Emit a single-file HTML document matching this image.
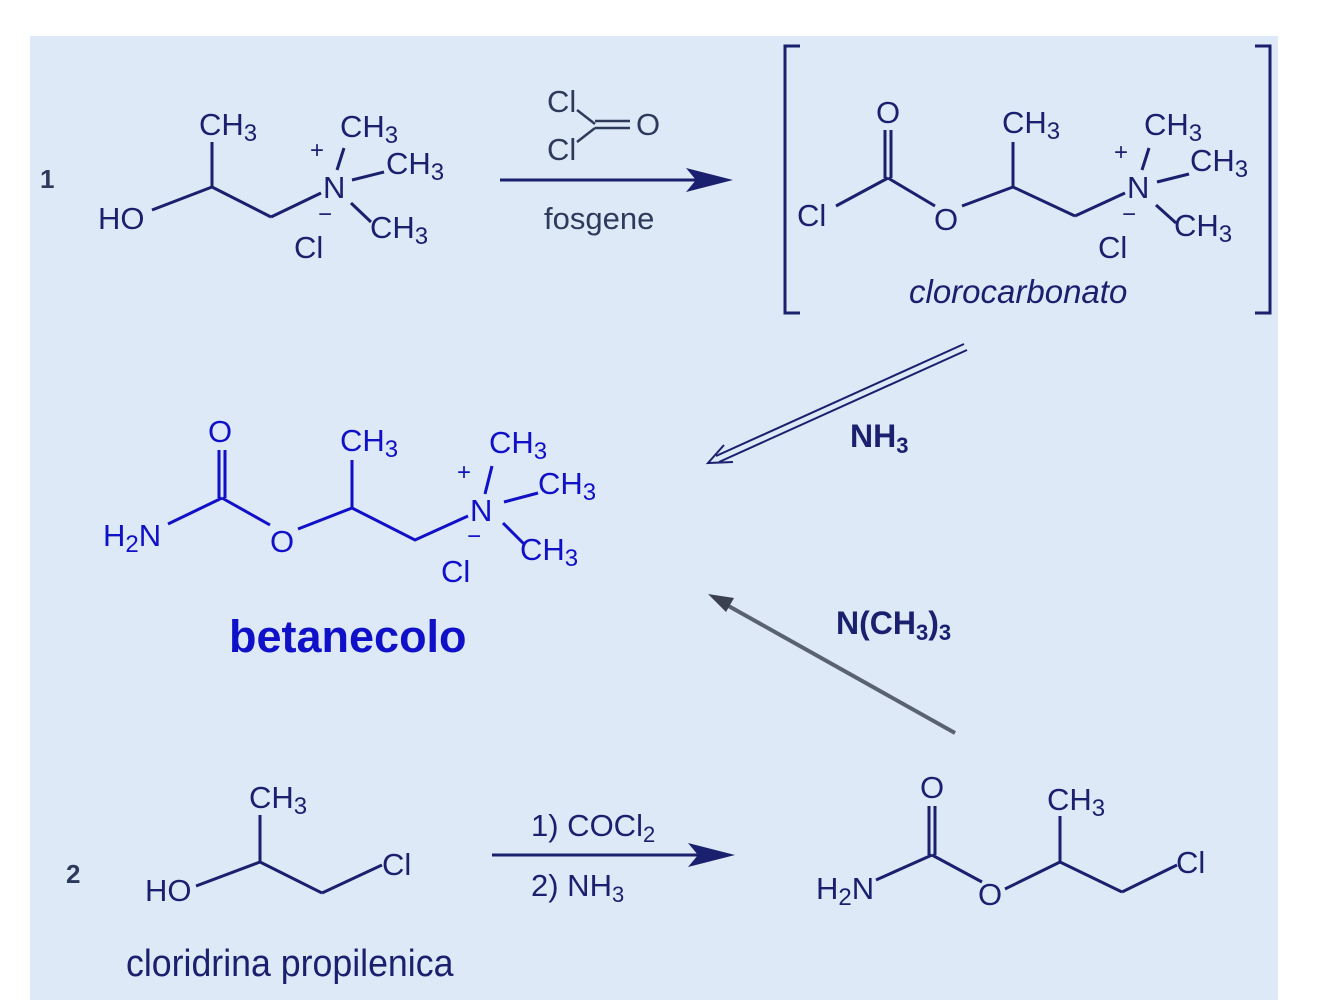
<!DOCTYPE html>
<html><head><meta charset="utf-8"><style>
html,body{margin:0;padding:0;background:#fff;}
svg{display:block;}
text{font-family:"Liberation Sans",sans-serif;}
</style></head><body>
<svg width="1319" height="1000" viewBox="0 0 1319 1000" xmlns="http://www.w3.org/2000/svg">
<rect x="30" y="36" width="1248" height="964" fill="#dde9f6"/>

<text x="40" y="188" font-size="26" font-weight="bold" fill="#2e3a5c">1</text>
<text x="66" y="883" font-size="26" font-weight="bold" fill="#2e3a5c">2</text>

<!-- Structure 1 -->
<g stroke="#1a1f6e" stroke-width="3" fill="none">
<line x1="152" y1="210" x2="212" y2="187"/>
<line x1="212" y1="187" x2="212" y2="142"/>
<line x1="212" y1="187" x2="271" y2="217"/>
<line x1="271" y1="217" x2="321" y2="193"/>
<line x1="337" y1="170" x2="344" y2="148"/>
<line x1="352" y1="180" x2="384" y2="172"/>
<line x1="351" y1="203" x2="371" y2="222"/>
</g>
<g fill="#1a1f6e" font-size="31">
<text x="98" y="229">HO</text>
<text x="199" y="135">CH<tspan font-size="24" dy="6">3</tspan></text>
<text x="340" y="137">CH<tspan font-size="24" dy="6">3</tspan></text>
<text x="386" y="174">CH<tspan font-size="24" dy="6">3</tspan></text>
<text x="370" y="238">CH<tspan font-size="24" dy="6">3</tspan></text>
<text x="323" y="198">N</text>
<text x="310" y="158" font-size="24">+</text>
<text x="318" y="222" font-size="24">−</text>
<text x="294" y="258">Cl</text>
</g>

<!-- phosgene -->
<g stroke="#2e3a5c" stroke-width="2.5" fill="none">
<line x1="577" y1="110" x2="595" y2="124"/>
<line x1="577" y1="142" x2="595" y2="128"/>
<line x1="595" y1="121" x2="630" y2="121"/>
<line x1="595" y1="128" x2="630" y2="128"/>
</g>
<g fill="#2e3a5c" font-size="31">
<text x="547" y="112">Cl</text>
<text x="547" y="160">Cl</text>
<text x="636" y="135">O</text>
<text x="544" y="229">fosgene</text>
</g>
<line x1="500" y1="180" x2="700" y2="180" stroke="#1a1f6e" stroke-width="3"/>
<polygon points="733,180 686,168 696,180 686,192" fill="#1a1f6e"/>

<!-- brackets -->
<g stroke="#1a1f6e" stroke-width="3" fill="none">
<polyline points="800,46 785,46 785,313 800,313"/>
<polyline points="1255,46 1270,46 1270,313 1255,313"/>
</g>
<g stroke="#1a1f6e" stroke-width="3" fill="none">
<line x1="885" y1="130" x2="885" y2="178"/>
<line x1="891" y1="130" x2="891" y2="178"/>
<line x1="836" y1="206" x2="888" y2="178"/>
<line x1="888" y1="178" x2="935" y2="206"/>
<line x1="962" y1="206" x2="1013" y2="187"/>
<line x1="1013" y1="187" x2="1013" y2="142"/>
<line x1="1013" y1="187" x2="1075" y2="216"/>
<line x1="1075" y1="216" x2="1125" y2="193"/>
<line x1="1142" y1="170" x2="1149" y2="148"/>
<line x1="1157" y1="182" x2="1189" y2="174"/>
<line x1="1156" y1="205" x2="1176" y2="223"/>
</g>
<g fill="#1a1f6e" font-size="31">
<text x="876" y="123">O</text>
<text x="797" y="226">Cl</text>
<text x="934" y="230">O</text>
<text x="1002" y="133">CH<tspan font-size="24" dy="6">3</tspan></text>
<text x="1144" y="135">CH<tspan font-size="24" dy="6">3</tspan></text>
<text x="1190" y="171">CH<tspan font-size="24" dy="6">3</tspan></text>
<text x="1174" y="236">CH<tspan font-size="24" dy="6">3</tspan></text>
<text x="1127" y="198">N</text>
<text x="1114" y="160" font-size="24">+</text>
<text x="1122" y="222" font-size="24">−</text>
<text x="1098" y="258">Cl</text>
<text x="909" y="303" font-style="italic" font-size="33">clorocarbonato</text>
</g>

<!-- NH3 arrow -->
<g stroke="#1a1f6e" stroke-width="2" fill="none">
<line x1="964" y1="344" x2="716" y2="456"/>
<line x1="967" y1="350" x2="719" y2="462"/>
<polyline points="724,445 708,463 733,462"/>
</g>
<text x="850" y="447" font-size="32" font-weight="bold" fill="#1a1f6e">NH<tspan font-size="22" dy="6">3</tspan></text>

<!-- N(CH3)3 arrow -->
<line x1="955" y1="733" x2="725" y2="604" stroke="#5a6270" stroke-width="4"/>
<polygon points="708,594 734,598 726,612" fill="#3a4050"/>
<text x="836" y="634" font-size="32" font-weight="bold" fill="#1a1f6e">N(CH<tspan font-size="22" dy="6">3</tspan><tspan dy="-6">)</tspan><tspan font-size="22" dy="6">3</tspan></text>

<!-- betanecolo -->
<g stroke="#1010c8" stroke-width="3" fill="none">
<line x1="219" y1="450" x2="219" y2="498"/>
<line x1="225" y1="450" x2="225" y2="498"/>
<line x1="168" y1="524" x2="222" y2="498"/>
<line x1="222" y1="498" x2="270" y2="525"/>
<line x1="298" y1="529" x2="352" y2="508"/>
<line x1="352" y1="508" x2="352" y2="460"/>
<polyline points="352,508 415,540 468,516"/>
<line x1="485" y1="494" x2="492" y2="466"/>
<line x1="504" y1="502" x2="538" y2="493"/>
<line x1="503" y1="523" x2="524" y2="544"/>
</g>
<g fill="#1010c8" font-size="31">
<text x="208" y="442">O</text>
<text x="103" y="546">H<tspan font-size="24" dy="6">2</tspan><tspan dy="-6">N</tspan></text>
<text x="270" y="552">O</text>
<text x="340" y="451">CH<tspan font-size="24" dy="6">3</tspan></text>
<text x="489" y="453">CH<tspan font-size="24" dy="6">3</tspan></text>
<text x="538" y="494">CH<tspan font-size="24" dy="6">3</tspan></text>
<text x="520" y="560">CH<tspan font-size="24" dy="6">3</tspan></text>
<text x="470" y="521">N</text>
<text x="457" y="480" font-size="24">+</text>
<text x="467" y="544" font-size="24">−</text>
<text x="441" y="582">Cl</text>
<text x="229" y="652" font-size="45" font-weight="bold">betanecolo</text>
</g>

<!-- Scheme 2 reactant -->
<g stroke="#1a1f6e" stroke-width="3" fill="none">
<line x1="196" y1="886" x2="260" y2="862"/>
<line x1="260" y1="862" x2="260" y2="815"/>
<line x1="260" y1="862" x2="322" y2="893"/>
<line x1="322" y1="893" x2="382" y2="865"/>
</g>
<g fill="#1a1f6e" font-size="31">
<text x="145" y="901">HO</text>
<text x="249" y="808">CH<tspan font-size="24" dy="6">3</tspan></text>
<text x="382" y="875">Cl</text>
</g>
<text x="126" y="976" font-size="38" fill="#1a1f6e" transform="translate(126 0) scale(0.94 1) translate(-126 0)">cloridrina propilenica</text>

<!-- Scheme 2 arrow -->
<line x1="492" y1="855" x2="700" y2="855" stroke="#1a1f6e" stroke-width="3"/>
<polygon points="735,855 688,843 698,855 688,867" fill="#1a1f6e"/>
<g fill="#1a1f6e" font-size="31">
<text x="531" y="836">1) COCl<tspan font-size="22" dy="6">2</tspan></text>
<text x="531" y="896">2) NH<tspan font-size="22" dy="6">3</tspan></text>
</g>

<!-- Scheme 2 product -->
<g stroke="#1a1f6e" stroke-width="3" fill="none">
<line x1="929" y1="806" x2="929" y2="855"/>
<line x1="935" y1="806" x2="935" y2="855"/>
<line x1="876" y1="880" x2="932" y2="855"/>
<line x1="932" y1="855" x2="982" y2="882"/>
<line x1="1005" y1="889" x2="1060" y2="862"/>
<line x1="1060" y1="862" x2="1060" y2="816"/>
<line x1="1060" y1="862" x2="1122" y2="892"/>
<line x1="1122" y1="892" x2="1177" y2="865"/>
</g>
<g fill="#1a1f6e" font-size="31">
<text x="920" y="798">O</text>
<text x="816" y="899">H<tspan font-size="24" dy="6">2</tspan><tspan dy="-6">N</tspan></text>
<text x="978" y="905">O</text>
<text x="1047" y="810">CH<tspan font-size="24" dy="6">3</tspan></text>
<text x="1176" y="873">Cl</text>
</g>
</svg>
</body></html>
